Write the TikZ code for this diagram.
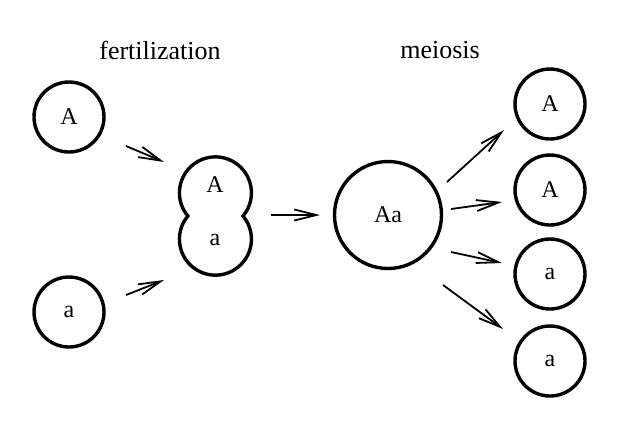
\documentclass[tikz,border=0pt]{standalone}
\usepackage{fontspec}
\setmainfont{Liberation Serif}
\usetikzlibrary{arrows.meta}
\begin{document}
\begin{tikzpicture}[x=0.5pt,y=0.5pt,
  cell/.style={circle, draw, line width=1.7pt, inner sep=0pt, minimum size=35pt, font=\fontsize{12}{14}\selectfont},
  lbl/.style={font=\fontsize{12}{14}\selectfont},
  arr/.style={line width=0.9pt, -{Straight Barb[length=11pt,width=5.5pt]}}]
\useasboundingbox (0,0) rectangle (620,-420);
\node[font=\fontsize{13}{15}\selectfont] (fert) at (160,-50) {fertilization};
\node[font=\fontsize{13}{15}\selectfont] (meio) at (440,-50) {meiosis};
% gametes
\node[cell] (g1) at (69,-117) {A};
\node[cell] (g2) at (69,-312) {a};
% fused cell
\draw[line width=1.7pt] (243,-216) arc[start angle=-40, end angle=220, radius=36]
  arc[start angle=140, end angle=400, radius=36] -- cycle;
\node[lbl] (zA) at (215,-185) {A};
\node[lbl] (za) at (215,-240) {a};
% diploid
\node[cell, minimum size=53.5pt] (dip) at (388,-215) {Aa};
% products
\node[cell] (p1) at (550,-104) {A};
\node[cell] (p2) at (550,-190) {A};
\node[cell] (p3) at (550,-274) {a};
\node[cell] (p4) at (550,-361) {a};
% arrow ends
\coordinate (f1) at (126,-146);  \coordinate (t1) at (164,-162);
\coordinate (f2) at (126,-295);  \coordinate (t2) at (164,-280);
\coordinate (f3) at (271,-215);  \coordinate (t3) at (320,-215);
\coordinate (f4) at (447,-182);  \coordinate (t4) at (504,-130);
\coordinate (f5) at (451,-209);  \coordinate (t5) at (502,-202);
\coordinate (f6) at (451,-252);  \coordinate (t6) at (502,-263);
\coordinate (f7) at (443,-285);  \coordinate (t7) at (503,-329);
\foreach \i in {1,...,7}
  \draw[arr] (f\i) -- (t\i);
\end{tikzpicture}
\end{document}
